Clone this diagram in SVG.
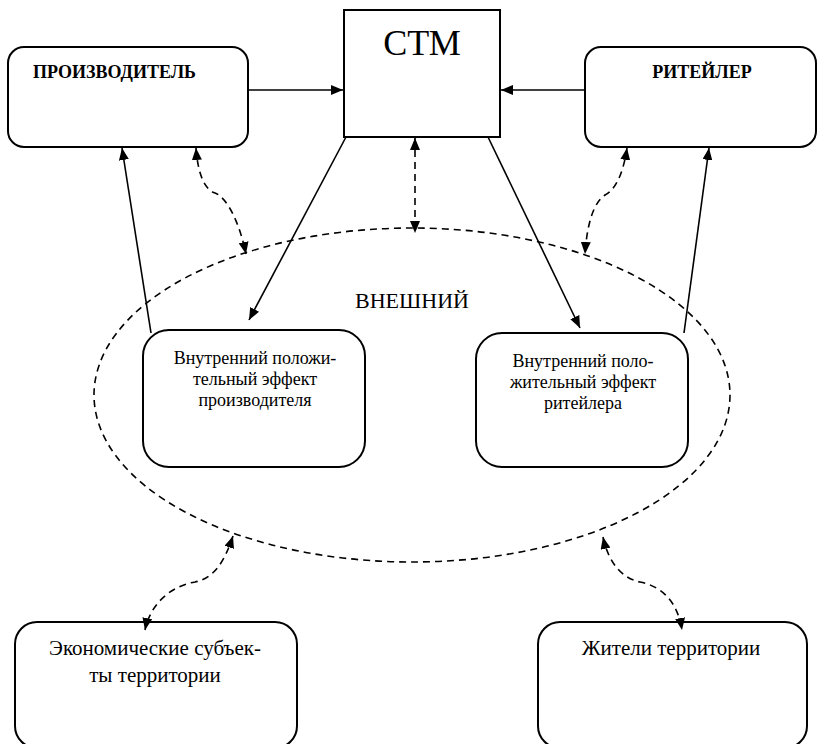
<svg xmlns="http://www.w3.org/2000/svg" width="818" height="744" viewBox="0 0 818 744">
<style>
.box{fill:#fff;stroke:#000;stroke-width:2}
.ln{fill:none;stroke:#000;stroke-width:1.6}
.dsh{fill:none;stroke:#000;stroke-width:1.6;stroke-dasharray:7,5}
.t{font-family:"Liberation Serif","DejaVu Serif",serif;fill:#000}
</style>
<defs>
<marker id="ah" viewBox="0 0 12 10" refX="12" refY="5" markerWidth="12" markerHeight="10" markerUnits="userSpaceOnUse" orient="auto-start-reverse">
<path d="M0,0 L12,5 L0,10 z" fill="#000"/>
</marker>
</defs>
<g id="ellipse-external">
<ellipse class="dsh" cx="412" cy="395" rx="318" ry="167"/>
<text class="t" x="412" y="308" font-size="22" text-anchor="middle">ВНЕШНИЙ</text>
</g>
<g id="producer">
<rect class="box" x="8" y="47" width="240" height="100" rx="16"/>
<text class="t" x="33" y="78" font-size="18" font-weight="bold">ПРОИЗВОДИТЕЛЬ</text>
</g>
<g id="ctm">
<rect class="box" x="344" y="10" width="156" height="127"/>
<text class="t" x="422" y="55" font-size="36" text-anchor="middle">СТМ</text>
</g>
<g id="retailer">
<rect class="box" x="585" y="47" width="231" height="100" rx="16"/>
<text class="t" x="702" y="78" font-size="18" font-weight="bold" text-anchor="middle">РИТЕЙЛЕР</text>
</g>
<g id="internal-producer">
<rect class="box" x="143" y="330" width="222" height="137" rx="26"/>
<text class="t" font-size="18" text-anchor="middle"><tspan x="255" y="364">Внутренний положи-</tspan><tspan x="255" y="385">тельный эффект</tspan><tspan x="255" y="406">производителя</tspan></text>
</g>
<g id="internal-retailer">
<rect class="box" x="476" y="333" width="212" height="134" rx="26"/>
<text class="t" font-size="18" text-anchor="middle"><tspan x="583" y="367">Внутренний поло-</tspan><tspan x="583" y="388">жительный эффект</tspan><tspan x="583" y="409">ритейлера</tspan></text>
</g>
<g id="economic-subjects">
<rect class="box" x="15" y="622" width="282" height="126" rx="22"/>
<text class="t" font-size="21" text-anchor="middle"><tspan x="155" y="655">Экономические субъек-</tspan><tspan x="155" y="682">ты территории</tspan></text>
</g>
<g id="residents">
<rect class="box" x="538" y="622" width="269" height="126" rx="22"/>
<text class="t" x="671" y="655" font-size="21" text-anchor="middle">Жители территории</text>
</g>
<g id="connectors">
<path class="ln" d="M248,90 L343,90" marker-end="url(#ah)"/>
<path class="ln" d="M585,90 L501,90" marker-end="url(#ah)"/>
<path class="ln" d="M346,137 L249,320" marker-end="url(#ah)"/>
<path class="ln" d="M488,137 L580,328" marker-end="url(#ah)"/>
<path class="ln" d="M151,333 L122,148" marker-end="url(#ah)"/>
<path class="ln" d="M684,333 L709,148" marker-end="url(#ah)"/>
<path class="dsh" d="M196,148 C198,175 205,190 215,193 C228,198 240,225 246,254" marker-start="url(#ah)" marker-end="url(#ah)"/>
<path class="dsh" d="M415,138 L415,233" marker-start="url(#ah)" marker-end="url(#ah)"/>
<path class="dsh" d="M627,148 C623,175 615,190 605,195 C593,203 587,225 585,254" marker-start="url(#ah)" marker-end="url(#ah)"/>
<path class="dsh" d="M233,536 C225,560 215,578 195,582 C170,586 150,605 145,630" marker-start="url(#ah)" marker-end="url(#ah)"/>
<path class="dsh" d="M603,537 C608,560 620,578 640,582 C665,587 678,605 682,630" marker-start="url(#ah)" marker-end="url(#ah)"/>
</g>
</svg>
